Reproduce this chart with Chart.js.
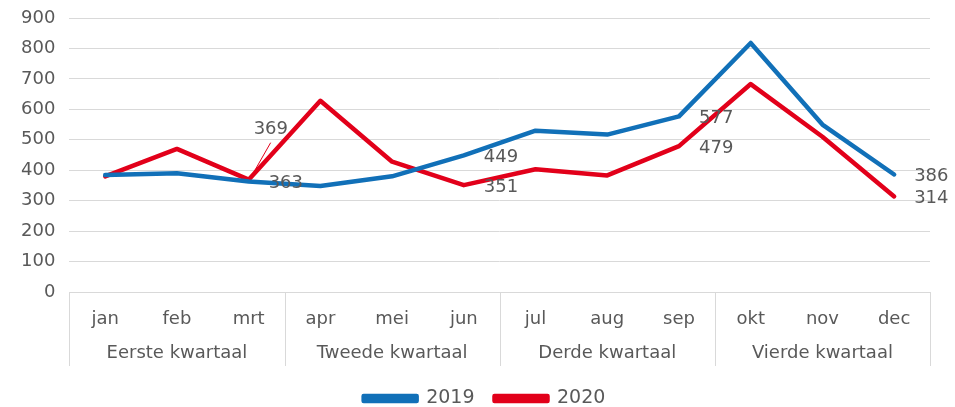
<!DOCTYPE html>
<html>
<head>
<meta charset="utf-8">
<script src="https://cdn.jsdelivr.net/npm/chart.js@4/dist/chart.umd.min.js"></script>
<style>
  html, body { margin: 0; padding: 0; background: #fff; }
  #wrap { width: 955px; height: 407px; }
</style>
</head>
<body>
<div id="wrap"><canvas id="grafiek"></canvas></div>
<script>
// Gegevens
const maanden = ["jan", "feb", "mrt", "apr", "mei", "jun", "jul", "aug", "sep", "okt", "nov", "dec"];
const kwartalen = ["Eerste kwartaal", "Tweede kwartaal", "Derde kwartaal", "Vierde kwartaal"];
const waarden2019 = [384, 390, 363, 348, 380, 449, 530, 517, 577, 818, 550, 386];
const waarden2020 = [380, 470, 369, 628, 428, 351, 403, 383, 479, 683, 510, 314];
const yTicks = [0, 100, 200, 300, 400, 500, 600, 700, 800, 900];

// maanden met een waardelabel, per reeks
const labels2019 = [2, 5, 8, 11];
const labels2020 = [2, 5, 8, 11];

const grijs = "#595959";
const lijnGrijs = "#d9d9d9";
const lettertype = "'DejaVu Sans', Verdana, sans-serif";

// Kwartaalindeling en scheidingslijnen onder de x-as
const kwartaalPlugin = {
    id: "kwartalen",
    afterLayout(chart) {
        // legenda staat iets rechts van het midden
        chart.legend.left += 16;
        chart.legend.right += 16;
    },
    afterDraw(chart) {
        const { ctx, chartArea, scales: { x } } = chart;
        const onder = chartArea.bottom + 74;
        const grenzen = [chartArea.left];
        for (let q = 1; q < kwartalen.length; q++) {
            const i = q * 3;
            grenzen.push((x.getPixelForValue(i - 1) + x.getPixelForValue(i)) / 2);
        }
        grenzen.push(chartArea.right);

        ctx.save();
        ctx.strokeStyle = lijnGrijs;
        ctx.lineWidth = 1;
        grenzen.forEach(gx => {
            const px = Math.round(gx) + 0.5;
            ctx.beginPath();
            ctx.moveTo(px, chartArea.bottom);
            ctx.lineTo(px, onder);
            ctx.stroke();
        });
        ctx.fillStyle = grijs;
        ctx.font = "18px " + lettertype;
        ctx.textAlign = "center";
        ctx.textBaseline = "middle";
        kwartalen.forEach((naam, q) => {
            ctx.fillText(naam, (grenzen[q] + grenzen[q + 1]) / 2, chartArea.bottom + 61);
        });
        ctx.restore();
    }
};

// Waardelabels rechts van de punten
const labelPlugin = {
    id: "waardelabels",
    afterDatasetsDraw(chart) {
        const { ctx } = chart;
        const keuze = [labels2019, labels2020];
        ctx.save();
        ctx.fillStyle = grijs;
        ctx.font = "18px " + lettertype;
        ctx.textAlign = "left";
        ctx.textBaseline = "middle";
        chart.data.datasets.forEach((ds, d) => {
            const meta = chart.getDatasetMeta(d);
            keuze[d].forEach(i => {
                const pt = meta.data[i];
                let lx = pt.x + 20, ly = pt.y + 2;
                // label van 2020 in maart staat hoger, met verbindingslijn
                if (d === 1 && i === 2) {
                    lx = pt.x + 5;
                    ly = pt.y - 50;
                    ctx.strokeStyle = ds.borderColor;
                    ctx.lineWidth = 1;
                    ctx.beginPath();
                    ctx.moveTo(pt.x + 22, pt.y - 37);
                    ctx.lineTo(pt.x + 2, pt.y - 2);
                    ctx.stroke();
                }
                ctx.fillText(String(ds.data[i]), lx, ly);
            });
        });
        ctx.restore();
    }
};

new Chart(document.getElementById("grafiek").getContext("2d"), {
    type: "line",
    data: {
        labels: maanden,
        datasets: [
            {
                label: "2019",
                data: waarden2019,
                borderColor: "#1170b8",
                backgroundColor: "#1170b8",
                borderWidth: 4.5,
                pointRadius: 0,
                tension: 0,
                borderCapStyle: "round",
                borderJoinStyle: "round"
            },
            {
                label: "2020",
                data: waarden2020,
                borderColor: "#e2001a",
                backgroundColor: "#e2001a",
                borderWidth: 4.5,
                pointRadius: 0,
                tension: 0,
                borderCapStyle: "round",
                borderJoinStyle: "round"
            }
        ]
    },
    options: {
        responsive: true,
        maintainAspectRatio: false,
        animation: false,
        layout: { padding: { left: 7, right: 25, top: 18, bottom: -11 } },
        plugins: {
            legend: {
                position: "bottom",
                labels: {
                    color: grijs,
                    font: { family: lettertype, size: 19 },
                    boxWidth: 53,
                    boxHeight: 5,
                    padding: 20
                }
            },
            tooltip: { enabled: false }
        },
        scales: {
            x: {
                offset: true,
                grid: { display: false, drawTicks: false },
                border: { color: lijnGrijs },
                ticks: {
                    color: grijs,
                    font: { family: lettertype, size: 18 },
                    padding: 17,
                    autoSkip: false,
                    maxRotation: 0
                },
                afterFit(scale) { scale.height = 77; }
            },
            y: {
                min: 0,
                max: 900,
                afterBuildTicks(scale) { scale.ticks = yTicks.map(v => ({ value: v })); },
                afterFit(scale) { scale.paddingTop = 0; scale.paddingBottom = 0; },
                grid: { color: lijnGrijs, drawTicks: false },
                border: { display: false },
                ticks: {
                    color: grijs,
                    font: { family: lettertype, size: 18 },
                    padding: 14
                }
            }
        }
    },
    plugins: [kwartaalPlugin, labelPlugin]
});
</script>
</body>
</html>
